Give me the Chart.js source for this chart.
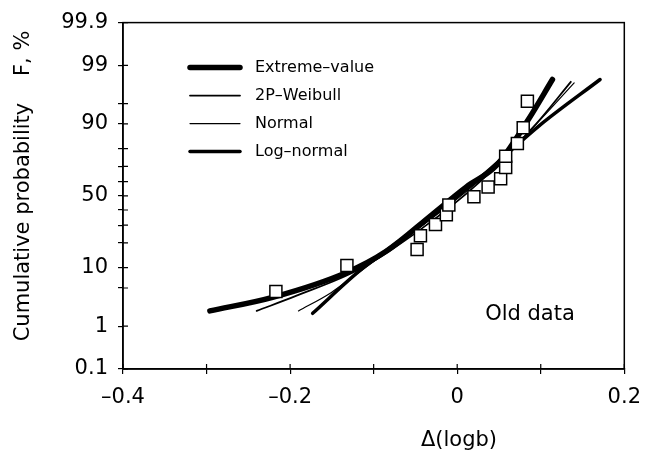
<!DOCTYPE html>
<html>
<head>
<meta charset="utf-8">
<script src="https://cdn.jsdelivr.net/npm/chart.js@4.4.1/dist/chart.umd.min.js"></script>
<style>
  body { margin: 0; background: #fff; }
  canvas { display: block; }
</style>
</head>
<body>
<canvas id="probChart" width="652" height="455"></canvas>
<script>
// measured points (delta logb, cumulative probability %)
const dataX = [-0.217, -0.132, -0.048, -0.044, -0.026, -0.013, -0.010, 0.020, 0.037, 0.052, 0.058, 0.058, 0.072, 0.079, 0.084];
const dataF = [4.4, 10.7, 16.9, 23.8, 30.4, 36.7, 43.5, 49.3, 56.3, 62.0, 69.4, 76.0, 82.5, 88.8, 95.4];

// fitted distributions
const extremeX = [-0.296, -0.221, -0.133, -0.085, -0.030, 0.011, 0.047, 0.084, 0.114];
const extremeF = [2.0, 3.5, 8.5, 16.1, 36.9, 56.3, 70.6, 90.9, 98.1];
const weibullX = [-0.240, -0.193, -0.117, -0.045, 0.027, 0.094, 0.136];
const weibullF = [2.0, 3.7, 9.5, 27.0, 59.8, 89.9, 97.9];
const normalX = [-0.190, -0.151, -0.117, -0.045, 0.027, 0.094, 0.140];
const normalF = [2.0, 4.2, 8.7, 28.5, 61.1, 89.8, 97.8];
const lognormX = [-0.173, -0.117, -0.045, 0.027, 0.098, 0.171];
const lognormF = [1.8, 9.0, 29.5, 62.5, 89.4, 98.1];

const fitNames = ['Extreme–value', '2P–Weibull', 'Normal', 'Log–normal'];

const yTickMarks = [0.1, 1, 5, 10, 20, 30, 40, 50, 60, 70, 80, 90, 95, 99, 99.9];
const yTickLabels = [0.1, 1, 10, 50, 90, 99, 99.9];
const xTickLabels = [-0.4, -0.2, 0, 0.2];

const FONT = 'DejaVu Sans';

// inverse of the standard normal cdf (Acklam)
function probit(p) {
    const a = [-3.969683028665376e+01, 2.209460984245205e+02, -2.759285104469687e+02, 1.383577518672690e+02, -3.066479806614716e+01, 2.506628277459239e+00];
    const b = [-5.447609879822406e+01, 1.615858368580409e+02, -1.556989798598866e+02, 6.680131188771972e+01, -1.328068155288572e+01];
    const c = [-7.784894002430293e-03, -3.223964580411365e-01, -2.400758277161838e+00, -2.549732539343734e+00, 4.374664141464968e+00, 2.938163982698783e+00];
    const d = [7.784695709041462e-03, 3.224671290700398e-01, 2.445134137142996e+00, 3.754408661907416e+00];
    const plow = 0.02425;
    if (p < plow) {
        const q = Math.sqrt(-2 * Math.log(p));
        return (((((c[0]*q+c[1])*q+c[2])*q+c[3])*q+c[4])*q+c[5]) / ((((d[0]*q+d[1])*q+d[2])*q+d[3])*q+1);
    }
    if (p <= 1 - plow) {
        const q = p - 0.5, r = q * q;
        return (((((a[0]*r+a[1])*r+a[2])*r+a[3])*r+a[4])*r+a[5])*q / (((((b[0]*r+b[1])*r+b[2])*r+b[3])*r+b[4])*r+1);
    }
    const q = Math.sqrt(-2 * Math.log(1 - p));
    return -(((((c[0]*q+c[1])*q+c[2])*q+c[3])*q+c[4])*q+c[5]) / ((((d[0]*q+d[1])*q+d[2])*q+d[3])*q+1);
}

function normCdf(z) {
    const t = 1 / (1 + 0.3275911 * Math.abs(z) / Math.SQRT2);
    const y = 1 - (((((1.061405429*t - 1.453152027)*t) + 1.421413741)*t - 0.284496736)*t + 0.254829592)*t * Math.exp(-z*z/2);
    return z >= 0 ? (1 + y) / 2 : (1 - y) / 2;
}

// normal probability paper axis (values in %)
class ProbitScale extends Chart.Scale {
    determineDataLimits() {
        this.min = this.options.min ?? 0.1;
        this.max = this.options.max ?? 99.9;
    }
    buildTicks() {
        return [];
    }
    configure() {
        super.configure();
        this._zStart = probit(this.min / 100);
        this._zRange = probit(this.max / 100) - this._zStart;
    }
    getPixelForValue(v) {
        return this.getPixelForDecimal((probit(v / 100) - this._zStart) / this._zRange);
    }
    getValueForPixel(px) {
        return 100 * normCdf(this._zStart + this.getDecimalForPixel(px) * this._zRange);
    }
}
ProbitScale.id = 'probit';
ProbitScale.defaults = {};
Chart.register(ProbitScale);

function pts(xs, ys) {
    return xs.map((x, i) => ({ x: x, y: ys[i] }));
}

function fitLine(label, xs, ys, width) {
    return {
        label: label,
        data: pts(xs, ys),
        showLine: true,
        pointRadius: 0,
        borderColor: '#000',
        borderWidth: width,
        borderCapStyle: 'round',
        borderJoinStyle: 'round',
        cubicInterpolationMode: 'monotone',
        fill: false,
        order: 1
    };
}

const decor = {
    id: 'decor',
    afterDraw(chart) {
        const { ctx, chartArea: a, scales } = chart;
        ctx.save();
        ctx.strokeStyle = '#000';
        ctx.lineWidth = 1.5;
        ctx.strokeRect(a.left, a.top, a.right - a.left, a.bottom - a.top);

        // tick marks cross the axis
        ctx.lineWidth = 1.2;
        ctx.beginPath();
        scales.x.ticks.forEach(t => {
            const px = scales.x.getPixelForValue(t.value);
            ctx.moveTo(px, a.bottom);
            ctx.lineTo(px, a.bottom - 5);
        });
        scales.y.ticks.forEach(t => {
            const py = scales.y.getPixelForValue(t.value);
            ctx.moveTo(a.left, py);
            ctx.lineTo(a.left + 5, py);
        });
        ctx.stroke();

        // legend
        ctx.fillStyle = '#000';
        ctx.font = '16px "' + FONT + '"';
        ctx.textBaseline = 'middle';
        ctx.textAlign = 'left';
        fitNames.forEach((name, i) => {
            const ds = chart.data.datasets.find(d => d.label === name);
            const y = a.top + 45 + i * 28;
            ctx.lineWidth = ds.borderWidth;
            ctx.lineCap = 'round';
            ctx.beginPath();
            ctx.moveTo(a.left + 67, y);
            ctx.lineTo(a.left + 117, y);
            ctx.stroke();
            ctx.fillText(name, a.left + 132, y);
        });

        // note
        ctx.font = '21px "' + FONT + '"';
        ctx.textAlign = 'center';
        ctx.fillText('Old data', a.left + 407, a.top + 292);

        // axis titles
        ctx.fillText('Δ(logb)', a.left + 336, 441);
        ctx.translate(24, 186);
        ctx.rotate(-Math.PI / 2);
        ctx.fillText('Cumulative probability    F, %', 0, 0);
        ctx.restore();
    }
};

new Chart(document.getElementById('probChart'), {
    type: 'scatter',
    data: {
        datasets: [
            {
                label: 'data',
                data: pts(dataX, dataF),
                pointStyle: 'rect',
                pointRadius: 8.5,
                backgroundColor: '#fff',
                borderColor: '#000',
                borderWidth: 1.5,
                showLine: false,
                order: 0
            },
            fitLine('Extreme–value', extremeX, extremeF, 5.5),
            fitLine('2P–Weibull', weibullX, weibullF, 1.8),
            fitLine('Normal', normalX, normalF, 1.2),
            fitLine('Log–normal', lognormX, lognormF, 3.5)
        ]
    },
    options: {
        responsive: false,
        animation: false,
        events: [],
        layout: { padding: { left: 0, right: 27, top: 19, bottom: 0 } },
        plugins: {
            legend: { display: false },
            tooltip: { enabled: false }
        },
        scales: {
            x: {
                type: 'linear',
                min: -0.4,
                max: 0.2,
                ticks: {
                    stepSize: 0.1,
                    autoSkip: false,
                    maxRotation: 0,
                    padding: 11,
                    color: '#000',
                    font: { family: FONT, size: 21 },
                    callback: function (v) {
                        if (!xTickLabels.some(t => Math.abs(t - v) < 1e-6)) return '';
                        if (Math.abs(v) < 1e-6) return '0';
                        return (v < 0 ? '–' : '') + Math.abs(v).toFixed(1);
                    }
                },
                grid: { drawOnChartArea: false, drawTicks: true, tickLength: 5, color: '#000', lineWidth: 1.2 },
                border: { display: true, color: '#000', width: 1.5 },
                afterFit: function (s) { s.height = 86; }
            },
            y: {
                type: 'probit',
                min: 0.1,
                max: 99.9,
                afterBuildTicks: function (s) {
                    s.ticks = yTickMarks.map(v => ({ value: v }));
                },
                ticks: {
                    autoSkip: false,
                    padding: 10,
                    color: '#000',
                    font: { family: FONT, size: 21 },
                    callback: function (v) {
                        return yTickLabels.includes(v) ? String(v) : '';
                    }
                },
                grid: { drawOnChartArea: false, drawTicks: true, tickLength: 5, color: '#000', lineWidth: 1.2 },
                border: { display: true, color: '#000', width: 1.5 },
                afterFit: function (s) { s.width = 123; }
            }
        }
    },
    plugins: [decor]
});
</script>
</body>
</html>
